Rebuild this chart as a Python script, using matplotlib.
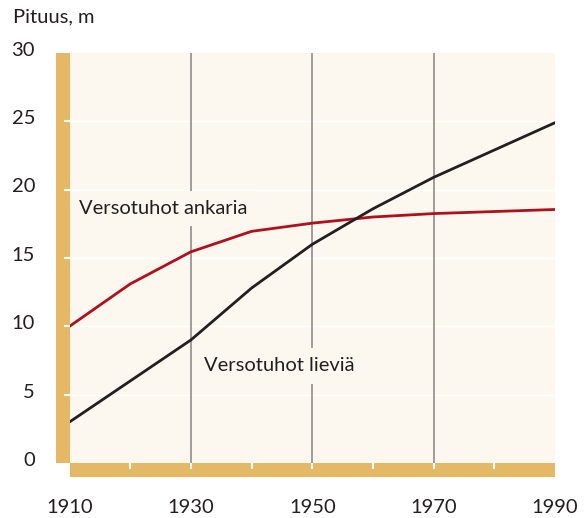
import matplotlib
matplotlib.use("Agg")
import matplotlib.pyplot as plt
from matplotlib.patches import Rectangle
from matplotlib.transforms import ScaledTranslation

years = [1910, 1920, 1930, 1940, 1950, 1960, 1970, 1980, 1990]
lievia = [3.0, 6.0, 9.0, 12.8, 16.0, 18.6, 20.9, 22.9, 24.9]
ankaria = [10.0, 13.1, 15.45, 16.95, 17.55, 18.0, 18.25, 18.4, 18.55]
ytick_vals = [0, 5, 10, 15, 20, 25, 30]
xtick_labels = [1910, 1930, 1950, 1970, 1990]
grid_years = [1930, 1950, 1970]
ylabel = "Pituus, m"
label_ankaria = "Versotuhot ankaria"
label_lievia = "Versotuhot lieviä"

BG = "#FCF8F0"
BAR = "#E5B865"
RED = "#B0101C"
BLACK = "#231F20"
GRAY = "#9A9591"
TXT = "#231F20"

plt.rcParams['font.family'] = ['Lato', 'DejaVu Sans']

W, H = 584, 518
fig = plt.figure(figsize=(W / 100, H / 100), dpi=100)
fig.patch.set_facecolor("white")

L, R, T, B = 69.5, 555, 53, 463
ax = fig.add_axes([L / W, (H - B) / H, (R - L) / W, (B - T) / H])
ax.set_facecolor(BG)
ax.set_xlim(1910, 1990)
ax.set_ylim(0, 30)
for s in ax.spines.values():
    s.set_visible(False)

# bars (drawn beneath the axes so the white ticks show on top)
fig.add_artist(Rectangle((56 / W, (H - B) / H), (L - 56) / W, (B - T) / H,
                         transform=fig.transFigure, facecolor=BAR, edgecolor="none", zorder=-1))
fig.add_artist(Rectangle((L / W, (H - 477) / H), (R - L) / W, (477 - B) / H,
                         transform=fig.transFigure, facecolor=BAR, edgecolor="none", zorder=-1))

# faint horizontal grid
for v in ytick_vals[1:-1]:
    ax.axhline(v, color="white", lw=1.0, zorder=1)
# vertical grid
for g in grid_years:
    ax.axvline(g, color=GRAY, lw=1.3, zorder=1.5)

ax.plot(years, ankaria, color=RED, lw=2.0, zorder=3, solid_joinstyle="miter")
ax.plot(years, lievia, color=BLACK, lw=2.0, zorder=3, solid_joinstyle="miter")

# ticks
ax.set_yticks(ytick_vals)
ax.set_yticklabels([str(v) for v in ytick_vals])
ax.set_xticks(years)
ax.set_xticklabels([str(y) if y in xtick_labels else "" for y in years])
ax.tick_params(axis="y", direction="out", length=4.3, width=1.5, color="white",
               pad=20.5, labelsize=14.5, labelcolor=TXT)
ax.tick_params(axis="x", direction="out", length=4.3, width=1.5, color="white",
               pad=21.5, labelsize=14.5, labelcolor=TXT)
for i, t in enumerate(ax.yaxis.get_major_ticks()):
    if ytick_vals[i] in (0, 30):
        t.tick1line.set_visible(False)
for i, t in enumerate(ax.xaxis.get_major_ticks()):
    if years[i] in (1910, 1990):
        t.tick1line.set_visible(False)
for lab in ax.get_yticklabels():
    lab.set_transform(lab.get_transform() + ScaledTranslation(0, 3 / 72, fig.dpi_scale_trans))

fig.text(13 / W, 1 - 17 / H, ylabel, ha="left", va="center", fontsize=14.5, color=TXT)

ax.text(1911.5, 18.6, label_ankaria, ha="left", va="center", fontsize=14.5, color=TXT, zorder=4,
        bbox=dict(boxstyle="square,pad=0.45", facecolor=BG, edgecolor="none"))
ax.text(1932.2, 7.1, label_lievia, ha="left", va="center", fontsize=14.5, color=TXT, zorder=2,
        bbox=dict(boxstyle="square,pad=0.45", facecolor=BG, edgecolor="none"))

fig.savefig("out.png", dpi=100, facecolor="white")
